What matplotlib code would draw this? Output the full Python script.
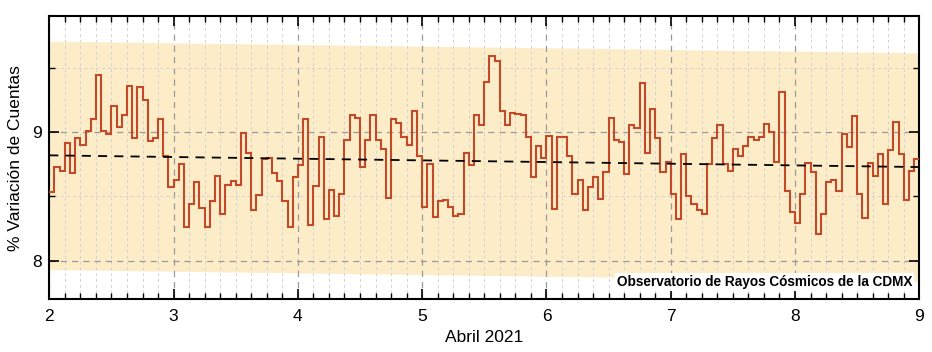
import numpy as np
import matplotlib
matplotlib.use('Agg')
import matplotlib.pyplot as plt
from matplotlib.ticker import MultipleLocator

plt.rcParams['font.family'] = ['Liberation Sans', 'DejaVu Sans']

# % variacion de cuentas, datos horarios (24 por dia), abril 2021
abr2 = [8.53, 8.73, 8.70, 8.91, 8.68, 8.95, 8.90, 9.01, 9.10, 9.44, 9.01, 8.98,
        9.20, 9.04, 9.13, 9.36, 8.95, 9.35, 9.25, 8.93, 8.95, 9.10, 8.81, 8.57]
abr3 = [8.63, 8.75, 8.26, 8.44, 8.61, 8.41, 8.26, 8.46, 8.66, 8.36, 8.59, 8.62,
        8.59, 8.99, 8.84, 8.39, 8.51, 8.79, 8.80, 8.68, 8.62, 8.46, 8.26, 8.65]
abr4 = [8.74, 9.10, 8.28, 8.58, 8.96, 8.32, 8.55, 8.35, 8.52, 8.94, 9.13, 9.11,
        8.73, 8.94, 9.13, 8.94, 8.87, 8.49, 9.10, 9.07, 8.96, 8.90, 9.16, 8.81]
abr5 = [8.42, 8.75, 8.34, 8.46, 8.47, 8.42, 8.35, 8.36, 8.84, 8.74, 9.13, 9.05,
        9.39, 9.59, 9.55, 9.16, 9.05, 9.15, 9.14, 9.13, 8.96, 8.65, 8.89, 8.80]
abr6 = [8.97, 8.40, 8.96, 8.96, 8.81, 8.52, 8.63, 8.39, 8.57, 8.65, 8.48, 8.69,
        9.11, 8.94, 8.92, 8.67, 9.05, 9.03, 9.38, 8.84, 9.18, 8.95, 8.69, 8.77]
abr7 = [8.52, 8.32, 8.83, 8.50, 8.44, 8.39, 8.36, 8.75, 8.95, 9.05, 8.75, 8.70,
        8.87, 8.81, 8.89, 8.96, 8.94, 8.96, 9.06, 9.00, 8.77, 9.31, 8.54, 8.38]
abr8 = [8.29, 8.52, 8.76, 8.69, 8.21, 8.36, 8.61, 8.63, 8.54, 8.98, 8.88, 9.12,
        8.52, 8.33, 8.76, 8.66, 8.83, 8.44, 8.86, 9.08, 8.83, 8.47, 8.70, 8.79]

# tendencia lineal y banda
trend_x = [2, 9]
trend_y = [8.818, 8.727]
band_half = 0.887

values = np.concatenate([abr2, abr3, abr4, abr5, abr6, abr7, abr8])
edges = 2 + np.arange(len(values) + 1) / 24.0
tx = np.array(trend_x)
ty = np.array(trend_y)

fig = plt.figure(figsize=(9.32, 3.52), dpi=100)
ax = fig.add_axes([0.0529, 0.1497, 0.9335, 0.8048])

ax.fill_between(tx, ty - band_half, ty + band_half, color='#FDECC8', lw=0, zorder=0)
ax.stairs(values, edges, baseline=None, color='#C24A28', lw=1.5, zorder=3)
ax.plot(tx, ty, color='black', lw=1.3, ls=(0, (5, 4)), zorder=4)

ax.set_xlim(2, 9)
ax.set_ylim(7.7, 9.9)
ax.xaxis.set_major_locator(MultipleLocator(1))
ax.xaxis.set_minor_locator(MultipleLocator(0.125))
ax.yaxis.set_major_locator(MultipleLocator(1))
ax.yaxis.set_minor_locator(MultipleLocator(0.5))

ax.set_axisbelow(True)
ax.grid(which='major', ls=(0, (5, 4)), color='#9a9a9a', lw=0.9)
ax.grid(which='minor', ls=(0, (3, 3)), color='#d2d2d2', lw=0.7)

ax.tick_params(which='both', direction='in', top=True, right=True, labelsize=12.5)
ax.tick_params(which='major', length=7, width=1.2)
ax.tick_params(which='minor', length=4, width=1)
ax.tick_params(axis='x', which='major', pad=7)
ax.tick_params(axis='y', which='major', pad=5)
for s in ax.spines.values():
    s.set_linewidth(1.5)

ax.set_xlabel('Abril 2021', fontsize=12.5, labelpad=4)
ax.set_ylabel('% Variación de Cuentas', fontsize=12.5, labelpad=7)

ax.text(0.992, 0.035, 'Observatorio de Rayos Cósmicos de la CDMX', transform=ax.transAxes,
        ha='right', va='bottom', fontsize=9.8, fontweight='bold', zorder=5,
        bbox=dict(facecolor='white', edgecolor='none', pad=1.5))

fig.savefig('out.png', dpi=100)
